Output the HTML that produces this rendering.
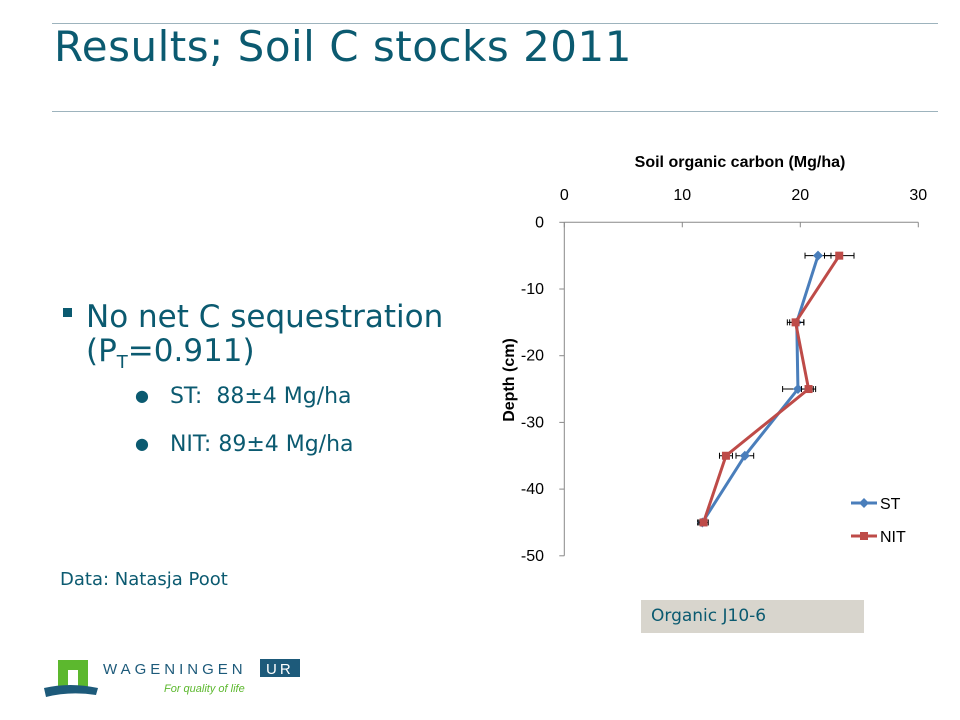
<!DOCTYPE html>
<html><head><meta charset="utf-8"><style>
body{margin:0;width:960px;height:720px;background:#fff;position:relative;overflow:hidden;font-family:"Liberation Sans",sans-serif}
.abs{position:absolute}
</style></head><body>
<div class="abs" style="left:52px;top:23px;width:886px;height:1px;background:#9db3bd"></div>
<div class="abs" style="left:54px;top:22px;font-size:42px;letter-spacing:0.5px;color:#0b5a70;white-space:nowrap;font-family:'DejaVu Sans',sans-serif">Results; Soil C stocks 2011</div>
<div class="abs" style="left:52px;top:111px;width:886px;height:1px;background:#9db3bd"></div>
<div class="abs" style="left:63px;top:308px;width:9px;height:9px;background:#0b5a70"></div>
<div class="abs" style="left:86px;top:300px;font-size:31px;color:#0b5a70;line-height:34px;font-family:'DejaVu Sans',sans-serif;white-space:nowrap">No net C sequestration<br>(P<sub style="font-size:18px">T</sub>=0.911)</div>
<div class="abs" style="left:135px;top:384px;font-size:22px;color:#0b5a70;font-family:'DejaVu Sans',sans-serif;white-space:pre"><span style="font-size:16px;vertical-align:2px">●</span>   ST:  88±4 Mg/ha</div>
<div class="abs" style="left:135px;top:432px;font-size:22px;color:#0b5a70;font-family:'DejaVu Sans',sans-serif;white-space:pre"><span style="font-size:16px;vertical-align:2px">●</span>   NIT: 89±4 Mg/ha</div>
<div class="abs" style="left:60px;top:569px;font-size:18px;color:#0b5a70;font-family:'DejaVu Sans',sans-serif">Data: Natasja Poot</div>
<div class="abs" style="left:641px;top:600px;width:223px;height:33px;background:#d8d5cd;color:#0b5a70;font-size:17px;line-height:33px;padding-left:10px;box-sizing:border-box;font-family:'DejaVu Sans',sans-serif">Organic J10-6</div>
<svg class="abs" style="left:40px;top:655px" width="260" height="45">
<rect x="18" y="5" width="30" height="27" fill="#5cb82e"/><rect x="28" y="15" width="10" height="17" fill="#fff"/>
<path d="M4 33 Q30 27 58 33 L56 40 Q30 36 6 42Z" fill="#1d5a7a"/>
<text x="63" y="19" font-size="15" fill="#1d5a7a" letter-spacing="4" font-family="Liberation Sans">WAGENINGEN</text>
<rect x="220" y="4" width="43" height="18" fill="#1d5a7a"/><text x="226" y="19" font-size="15" fill="#fff" letter-spacing="3">UR</text>
<text x="124" y="37" font-size="11" fill="#5cb82e" font-style="italic">For quality of life</text>
</svg>
<svg class="abs" id="chart" style="left:0;top:0" width="960" height="720"></svg>
<script>
const depths=[-5,-15,-25,-35,-45];
const stVals=[21.5,19.7,19.8,15.3,11.7];
const nitVals=[23.3,19.6,20.7,13.7,11.8];
const stErr=[1.1,0.6,1.3,0.75,0.4];
const nitErr=[1.25,0.7,0.6,0.55,0.4];
const xTicks=[0,10,20,30];
const yTicks=[0,-10,-20,-30,-40,-50];
const NS='http://www.w3.org/2000/svg';
const svg=document.getElementById('chart');
const X=v=>564.3+v*11.8, Y=d=>222.3-d*6.67;
function el(t,a,p){const e=document.createElementNS(NS,t);for(const k in a)e.setAttribute(k,a[k]);(p||svg).appendChild(e);return e;}
let ax=el('line',{x1:X(0),y1:Y(0),x2:X(30),y2:Y(0),stroke:'#888'});


let ay=el('line',{x1:X(0),y1:Y(0),x2:X(0),y2:Y(-50),stroke:'#888'});


xTicks.forEach(v=>{el('line',{x1:X(v),y1:Y(0),x2:X(v),y2:Y(0)+5,stroke:'#888'});
const t=el('text',{x:X(v),y:200,'font-size':16,'text-anchor':'middle',fill:'#000'});t.textContent=v;

});
yTicks.forEach(v=>{el('line',{x1:X(0)-5,y1:Y(v),x2:X(0),y2:Y(v),stroke:'#888'});
const t=el('text',{x:544,y:Y(v)+5,'font-size':16,'text-anchor':'end',fill:'#000'});t.textContent=v;

});
let xt=el('text',{x:740,y:167,'font-size':16,'font-weight':'bold','text-anchor':'middle'});xt.textContent='Soil organic carbon (Mg/ha)';


let yt=el('text',{x:0,y:0,'font-size':16,'font-weight':'bold','text-anchor':'middle',transform:'translate(514,380) rotate(-90)'});yt.textContent='Depth (cm)';


function series(vals,errs,col,name,sq){
 errs.forEach((e,i)=>{const y=Y(depths[i]);
  el('line',{x1:X(vals[i]-e),y1:y,x2:X(vals[i]+e),y2:y,stroke:'#000'});
  el('line',{x1:X(vals[i]-e),y1:y-3,x2:X(vals[i]-e),y2:y+3,stroke:'#000'});
  el('line',{x1:X(vals[i]+e),y1:y-3,x2:X(vals[i]+e),y2:y+3,stroke:'#000'});});
 const p=el('polyline',{points:vals.map((v,i)=>X(v)+','+Y(depths[i])).join(' '),fill:'none',stroke:col,'stroke-width':3});
 
 
 vals.forEach((v,i)=>{const x=X(v),y=Y(depths[i]);let m;
  if(sq)m=el('rect',{x:x-4,y:y-4,width:8,height:8,fill:col});
  else m=el('path',{d:`M${x} ${y-5}L${x+5} ${y}L${x} ${y+5}L${x-5} ${y}Z`,fill:col});
  
  });
}
series(stVals,stErr,'#4a7ebb','st',false);
series(nitVals,nitErr,'#be4b48','nit',true);
[['ST','#4a7ebb',503,false],['NIT','#be4b48',536,true]].forEach(([n,c,y,sq])=>{
 const g=el('g',{});
 
 
 el('line',{x1:851,y1:y,x2:877,y2:y,stroke:c,'stroke-width':3},g);
 if(sq)el('rect',{x:860,y:y-4,width:8,height:8,fill:c},g);else el('path',{d:`M864 ${y-5}L869 ${y}L864 ${y+5}L859 ${y}Z`,fill:c},g);
 const t=el('text',{x:880,y:y+6,'font-size':16},g);t.textContent=n;});
</script>
</body></html>
